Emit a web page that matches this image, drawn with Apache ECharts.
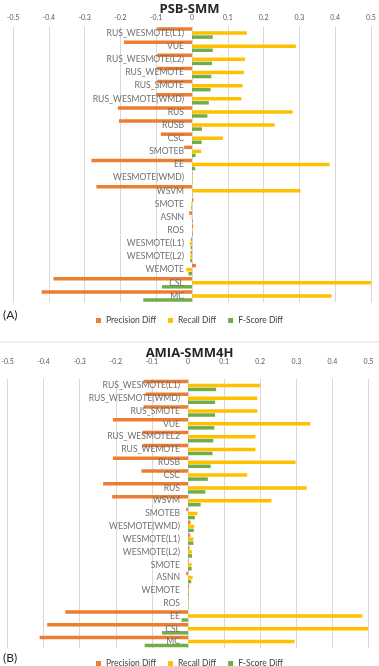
<!DOCTYPE html>
<html><head><meta charset="utf-8">
<script src="https://cdn.jsdelivr.net/npm/echarts@6/dist/echarts.min.js"></script>
<style>html,body{margin:0;padding:0;background:#fff}#c{width:379px;height:666px}</style>
</head><body><div id="c"></div>
<script>
const catsA = ["RUS_WESMOTE(L1)","VUE","RUS_WESMOTE(L2)","RUS_WEMOTE","RUS_SMOTE","RUS_WESMOTE(WMD)","RUS","RUSB","CSC","SMOTEB","EE","WESMOTE(WMD)","WSVM","SMOTE","ASNN","ROS","WESMOTE(L1)","WESMOTE(L2)","WEMOTE","CSL","MC"];
const precA = [-0.097,-0.19,-0.097,-0.098,-0.097,-0.1,-0.207,-0.204,-0.087,-0.022,-0.281,0.001,-0.267,0.004,-0.008,0.003,-0.003,-0.004,0.011,-0.387,-0.42];
const recA  = [0.153,0.29,0.148,0.145,0.141,0.138,0.281,0.231,0.086,0.026,0.384,0.002,0.303,-0.002,-0.001,0.002,-0.006,-0.005,-0.016,0.5,0.39];
const f1A   = [0.058,0.058,0.056,0.054,0.052,0.047,0.043,0.028,0.027,0.01,0.009,0.001,0.001,-0.002,0.002,0.002,-0.004,-0.005,-0.01,-0.084,-0.136];

const catsB = ["RUS_WESMOTE(L1)","RUS_WESMOTE(WMD)","RUS_SMOTE","VUE","RUS_WESMOTEL2","RUS_WEMOTE","RUSB","CSC","RUS","WSVM","SMOTEB","WESMOTE(WMD)","WESMOTE(L1)","WESMOTE(L2)","SMOTE","ASNN","WEMOTE","ROS","EE","CSL","MC"];
const precB = [-0.123,-0.118,-0.123,-0.208,-0.126,-0.126,-0.208,-0.129,-0.235,-0.21,-0.005,0.007,0.006,0.004,0.002,-0.005,0.003,0.001,-0.34,-0.39,-0.411];
const recB  = [0.2,0.192,0.192,0.339,0.187,0.187,0.298,0.164,0.329,0.231,0.026,0.017,0.015,0.011,0.01,0.013,0.002,0.001,0.483,0.499,0.295];
const f1B   = [0.078,0.075,0.075,0.073,0.07,0.068,0.063,0.055,0.048,0.035,0.019,0.016,0.015,0.011,0.01,0.009,0.002,0.001,-0.018,-0.072,-0.12];

const ticks = [-0.5,-0.4,-0.3,-0.2,-0.1,0,0.1,0.2,0.3,0.4,0.5];
const names = ["Precision Diff","Recall Diff","F-Score Diff"];
const colors = ["#ED7D31","#FFC000","#70AD47"];
const FONT = "Lato, 'Liberation Sans', sans-serif";

const gridA = {left:13, width:358, top:26.5, height:276};
const gridB = {left:7.5, width:361, top:379, height:269};

function xAx(gi, margin){
  return {type:'value', gridIndex:gi, position:'top', min:-0.5, max:0.5, interval:0.1,
    axisLine:{show:false}, axisTick:{show:false},
    axisLabel:{fontSize:7, color:'#595959', margin:margin, fontFamily:FONT, hideOverlap:false,
      formatter:v=>{const r=Math.round(v*10)/10; return ticks.indexOf(r)>=0 ? String(r) : '';}},
    splitLine:{show:true, lineStyle:{color:'#d9d9d9', width:1}}};
}
function yAx(gi, cats, g){
  const zeroOffset = -(g.width / 2);
  return {type:'category', gridIndex:gi, data:cats, inverse:true, z:10, position:'left', offset:zeroOffset,
    axisLine:{show:false, onZero:false}, axisTick:{show:false},
    axisLabel:{fontSize:8.6, color:'#707070', margin:8, fontFamily:FONT, interval:0, hideOverlap:false}};
}
function ser(gi, arrs){
  return arrs.map((d,i)=>({name:names[i], type:'bar', xAxisIndex:gi, yAxisIndex:gi, data:d,
    barWidth:3.5, barGap:'15%', itemStyle:{color:colors[i]}, z:2}));
}
const legendBase = {data:names, itemWidth:5, itemHeight:5, itemGap:12, icon:'rect',
  textStyle:{fontSize:8.5, color:'#404040', fontFamily:FONT}, left:'center'};

const chart = echarts.init(document.getElementById('c'), null, {renderer:'canvas'});
chart.setOption({
  animation:false,
  textStyle:{fontFamily:FONT},
  title:[
    {text:'PSB-SMM', left:'center', top:-2, textStyle:{fontSize:13, fontWeight:'bold', color:'#262626', fontFamily:"'Open Sans', sans-serif"}},
    {text:'AMIA-SMM4H', left:'center', top:342, textStyle:{fontSize:13, fontWeight:'bold', color:'#262626', fontFamily:"'Open Sans', sans-serif"}}
  ],
  legend:[
    Object.assign({}, legendBase, {top:311}),
    Object.assign({}, legendBase, {top:654})
  ],
  grid:[
    Object.assign({outerBoundsMode:'none', containLabel:false}, gridA),
    Object.assign({outerBoundsMode:'none', containLabel:false}, gridB)
  ],
  xAxis:[xAx(0,5), xAx(1,14)],
  yAxis:[yAx(0,catsA,gridA), yAx(1,catsB,gridB)],
  series:[...ser(0,[precA,recA,f1A]), ...ser(1,[precB,recB,f1B])],
  graphic:[
    {type:'text', left:3, top:309, style:{text:'(A)', fontSize:12, fill:'#262626', fontFamily:FONT}},
    {type:'text', left:3, top:652, style:{text:'(B)', fontSize:12, fill:'#262626', fontFamily:FONT}},
    {type:'line', shape:{x1:0, y1:342, x2:379, y2:342}, style:{stroke:'#e3e3e3', lineWidth:1}}
  ]
});
</script></body></html>
